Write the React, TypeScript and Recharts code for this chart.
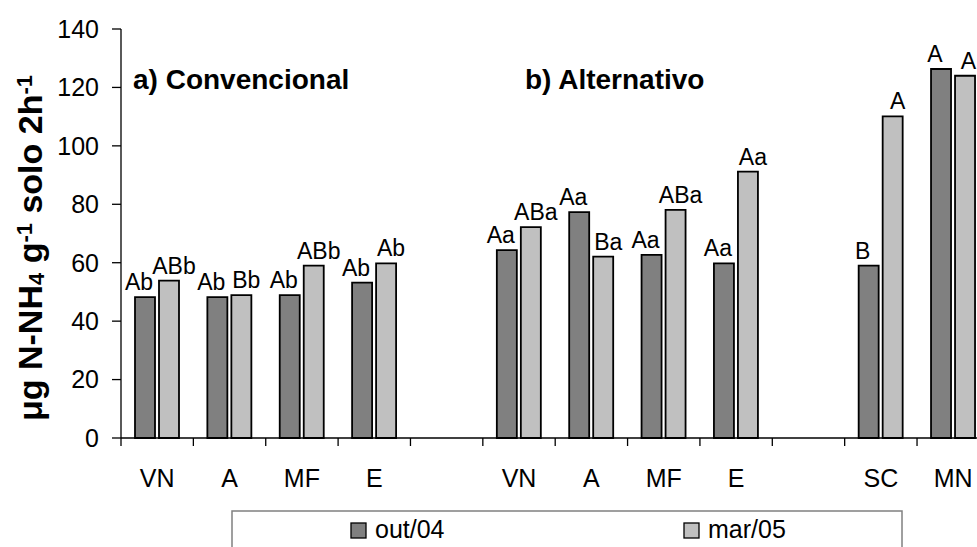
import React from "react";
import { BarChart, Bar, XAxis, YAxis, LabelList } from "recharts";

const categories = ["VN", "A", "MF", "E", "", "VN", "A", "MF", "E", "", "SC", "MN"];
const out04 = [48.2, 48.2, 48.9, 53.2, null, 64.3, 77.3, 62.7, 59.8, null, 59.0, 126.3];
const mar05 = [53.9, 48.9, 59.0, 59.8, null, 72.2, 62.1, 78.1, 91.2, null, 110.1, 124.0];
const out04Letters = ["Ab", "Ab", "Ab", "Ab", null, "Aa", "Aa", "Aa", "Aa", null, "B", "A"];
const mar05Letters = ["ABb", "Bb", "ABb", "Ab", null, "ABa", "Ba", "ABa", "Aa", null, "A", "A"];
const yTicks = [0, 20, 40, 60, 80, 100, 120, 140];
const seriesNames = ["out/04", "mar/05"];
const seriesColors = ["#808080", "#c0c0c0"];
const panelTitles = ["a) Convencional", "b) Alternativo"];

const FONT = "'Liberation Sans', Arial, sans-serif";
const W = 1000;
const H = 547;
const LEFT = 121;
const RIGHT = 10.6;
const HALF_BAND = (W - LEFT - RIGHT) / categories.length / 2;
const TICK_MARGIN = 23;

const data = categories.map((cat, i) => ({
  cat,
  out: out04[i],
  mar: mar05[i],
  outLbl: out04Letters[i],
  marLbl: mar05Letters[i],
}));

// excel style: tick marks sit between the categories
const CatTick = (props: any) => {
  const { x, y, payload } = props;
  const top = y - TICK_MARGIN - 8;
  return (
    <g>
      <line x1={x - HALF_BAND} x2={x - HALF_BAND} y1={top} y2={top + 8} stroke="#000" strokeWidth={1.3} />
      <text x={x} y={y + 18} textAnchor="middle" fontSize={25} fontFamily={FONT} fill="#000">
        {payload.value}
      </text>
    </g>
  );
};

// letters nudged sideways like excel does, kept inside the picture
const letter = (shift: number) => (p: any) => {
  if (p.value == null) return null;
  let cx = p.x + p.width / 2 + shift;
  const half = String(p.value).length * 6.5;
  if (cx + half > 975) cx = 975 - half;
  return (
    <text x={cx} y={p.y - 7} textAnchor="middle" fontSize={23} fontFamily={FONT} fill="#000">
      {p.value}
    </text>
  );
};

const YTitle = () => (
  <text
    transform="translate(42,248) rotate(-90)"
    textAnchor="middle"
    fontSize={34}
    fontWeight="bold"
    fontFamily={FONT}
    fill="#000"
  >
    <tspan>μg N-NH</tspan>
    <tspan fontSize={22} dy={2}>4</tspan>
    <tspan dy={-2}> g</tspan>
    <tspan fontSize={22} dy={-10}>-1</tspan>
    <tspan dy={10}> solo 2h</tspan>
    <tspan fontSize={22} dy={-10}>-1</tspan>
  </text>
);

export default function App() {
  return (
    <div style={{ position: "absolute", left: 0, top: 0, width: 977, height: 547, overflow: "hidden", background: "#fff" }}>
      <BarChart
        width={W}
        height={H}
        data={data}
        margin={{ top: 29, right: RIGHT, bottom: 49, left: 0 }}
        barSize={20}
        barGap={4}
      >
        <XAxis
          dataKey="cat"
          height={60}
          tickLine={false}
          tickSize={8}
          tickMargin={TICK_MARGIN}
          axisLine={{ stroke: "#000", strokeWidth: 1.3 }}
          tick={<CatTick />}
          interval={0}
        />
        <YAxis
          width={LEFT}
          domain={[0, 140]}
          ticks={yTicks}
          tickSize={9}
          tickMargin={13}
          axisLine={{ stroke: "#000", strokeWidth: 1.3 }}
          tickLine={{ stroke: "#000", strokeWidth: 1.3 }}
          tick={{ fontSize: 25, fill: "#000", fontFamily: FONT }}
          label={{ content: () => <YTitle /> }}
        />
        <Bar dataKey="out" name={seriesNames[0]} fill={seriesColors[0]} stroke="#000" strokeWidth={1.8} isAnimationActive={false}>
          <LabelList dataKey="outLbl" content={letter(-6)} />
        </Bar>
        <Bar dataKey="mar" name={seriesNames[1]} fill={seriesColors[1]} stroke="#000" strokeWidth={1.8} isAnimationActive={false}>
          <LabelList dataKey="marLbl" content={letter(5)} />
        </Bar>
      </BarChart>

      <svg width={977} height={547} style={{ position: "absolute", left: 0, top: 0, pointerEvents: "none" }}>
        <text x={133} y={89} fontSize={28} fontWeight="bold" fontFamily={FONT} fill="#000">{panelTitles[0]}</text>
        <text x={525} y={89} fontSize={28} fontWeight="bold" fontFamily={FONT} fill="#000">{panelTitles[1]}</text>
        {/* legend box */}
        <rect x={232} y={511} width={670} height={60} fill="none" stroke="#808080" strokeWidth={1.5} />
        {seriesNames.map((name, i) => (
          <g key={name}>
            <rect x={i === 0 ? 351 : 684} y={523} width={15} height={15} fill={seriesColors[i]} stroke="#000" strokeWidth={1.3} />
            <text x={i === 0 ? 375 : 708} y={538} fontSize={25} fontFamily={FONT} fill="#000">{name}</text>
          </g>
        ))}
      </svg>
    </div>
  );
}
